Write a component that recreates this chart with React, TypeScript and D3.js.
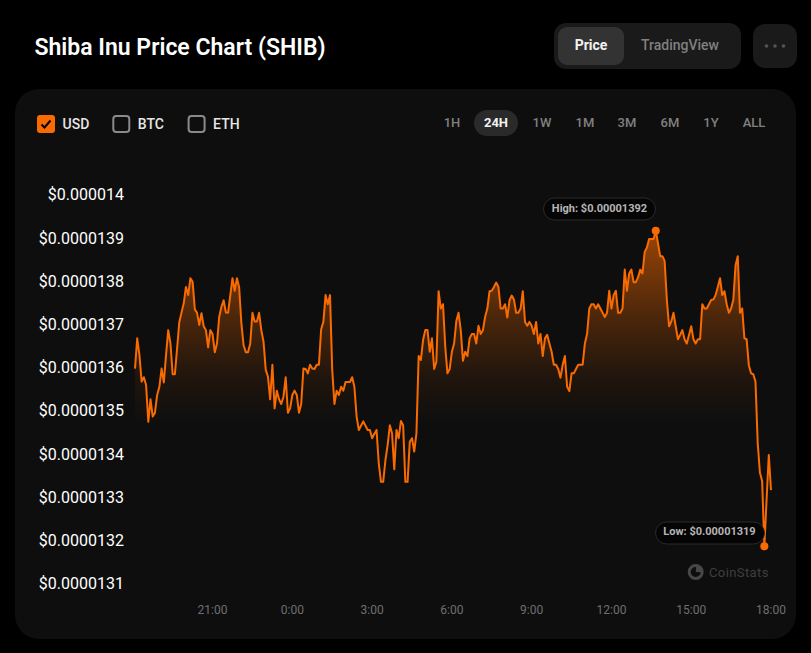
import { useMemo } from "react";
import * as d3 from "d3";

// price in units of 1e-8 USD, one sample every 5 minutes
const prices = [
  1360.1, 1367.1, 1363.2, 1357.1, 1358.1, 1356.3, 1347.8, 1353.0, 1349.0, 1349.9, 1354.0, 1355.9,
  1360.1, 1356.9, 1363.2, 1369.0, 1365.9, 1358.8, 1358.8, 1364.8, 1370.9, 1373.1, 1375.2, 1379.0,
  1377.1, 1381.0, 1380.2, 1373.8, 1373.0, 1370.2, 1372.9, 1369.9, 1369.0, 1365.0, 1369.0, 1368.1,
  1363.9, 1365.9, 1372.1, 1374.4, 1375.9, 1373.1, 1373.0, 1377.1, 1381.0, 1378.1, 1381.0, 1378.9,
  1370.6, 1365.5, 1363.9, 1363.9, 1365.9, 1373.0, 1371.0, 1371.0, 1373.0, 1369.0, 1366.3, 1359.8,
  1358.2, 1353.0, 1361.0, 1350.9, 1355.0, 1353.0, 1351.9, 1353.6, 1358.1, 1349.9, 1350.9, 1354.0,
  1355.0, 1354.0, 1349.9, 1351.9, 1360.1, 1360.0, 1359.0, 1361.0, 1360.1, 1360.0, 1361.0, 1361.0,
  1369.2, 1370.9, 1377.1, 1375.0, 1377.1, 1359.8, 1351.9, 1355.0, 1354.0, 1355.9, 1355.0, 1357.0,
  1357.0, 1357.0, 1358.1, 1355.9, 1349.0, 1345.9, 1346.9, 1347.9, 1346.9, 1345.9, 1345.9,
  1344.0, 1345.0, 1345.9, 1338.2, 1333.9, 1333.9, 1338.9, 1342.4, 1347.0, 1345.1, 1336.8, 1345.9,
  1344.0, 1348.0, 1347.0, 1333.9, 1333.9, 1343.2, 1344.0, 1340.9, 1345.1, 1363.0, 1362.1, 1366.7,
  1369.0, 1369.0, 1364.0, 1367.1, 1360.0, 1361.7, 1378.0, 1374.0, 1375.0, 1365.2, 1359.0, 1360.0,
  1364.0, 1365.9, 1371.1, 1373.0, 1369.0, 1361.9, 1364.0, 1363.0, 1367.1, 1368.1, 1368.1, 1365.9,
  1370.0, 1368.1, 1369.0, 1372.1, 1374.0, 1378.0, 1378.1, 1379.0, 1380.0, 1379.0, 1374.0, 1374.0,
  1375.0, 1371.9, 1375.9, 1377.0, 1376.1, 1373.0, 1373.0, 1374.0, 1378.0, 1370.9, 1370.0, 1370.9,
  1370.0, 1368.1, 1370.9, 1365.9, 1368.1, 1363.0, 1367.1, 1367.9, 1365.9, 1364.0, 1361.0, 1361.0,
  1360.0, 1358.0, 1361.0, 1363.0, 1355.9, 1354.9, 1359.0, 1359.0, 1360.0, 1361.0, 1361.0, 1361.0,
  1365.9, 1368.1, 1374.0,
  1375.0, 1375.0, 1374.0, 1375.0, 1374.0, 1373.0, 1372.0, 1373.0, 1378.1, 1374.0, 1377.1, 1378.1,
  1373.0, 1373.0, 1374.0, 1383.0, 1378.1, 1382.1, 1383.0, 1380.1, 1380.1, 1381.2, 1383.0, 1382.1,
  1387.1, 1388.1, 1390.1, 1390.1, 1390.1, 1392.0, 1389.1, 1386.1, 1386.1, 1385.0, 1376.0, 1369.9,
  1371.0, 1373.0, 1369.9, 1366.9, 1367.9, 1369.0, 1366.9, 1365.9, 1367.9, 1369.9, 1366.9, 1365.9,
  1366.9, 1366.9, 1375.0, 1374.0, 1374.0, 1375.0, 1376.0, 1376.1, 1377.1, 1379.0, 1381.0, 1377.1,
  1378.0, 1375.0, 1373.0, 1374.0, 1376.0, 1384.0, 1386.1, 1373.0, 1374.0, 1367.1, 1366.9, 1360.9,
  1359.0, 1358.8, 1357.1, 1342.9, 1336.0, 1334.1, 1319.0, 1329.7, 1340.1, 1332.0,
];

const priceTicks = [1400, 1390, 1380, 1370, 1360, 1350, 1340, 1330, 1320, 1310];
const priceLabels = [
  "$0.000014",
  "$0.0000139",
  "$0.0000138",
  "$0.0000137",
  "$0.0000136",
  "$0.0000135",
  "$0.0000134",
  "$0.0000133",
  "$0.0000132",
  "$0.0000131",
];
// minutes counted from 18:00 of the first day
const timeTicks = [180, 360, 540, 720, 900, 1080, 1260, 1440];
const timeLabels = ["21:00", "0:00", "3:00", "6:00", "9:00", "12:00", "15:00", "18:00"];
const ranges = ["1H", "24H", "1W", "1M", "3M", "6M", "1Y", "ALL"];
const rangeCenters = [452, 496, 542, 585, 627, 670, 711, 754];
const currencies = ["USD", "BTC", "ETH"];

const ORANGE = "#f96b00";
const FONT = "Roboto, sans-serif";
const SAMPLE_MINUTES = 5;
const FIRST_MINUTE = 5;

export default function App() {
  const xScale = d3.scaleLinear().domain([FIRST_MINUTE, 1440]).range([135, 771]);
  const yScale = d3.scaleLinear().domain([1310, 1400]).range([585.2, 196.1]);

  const points = useMemo(
    () => prices.map((price, i) => ({ minute: FIRST_MINUTE + i * SAMPLE_MINUTES, price })),
    []
  );

  const linePath = d3
    .line<{ minute: number; price: number }>()
    .x((d) => xScale(d.minute))
    .y((d) => yScale(d.price))(points);

  const areaPath = d3
    .area<{ minute: number; price: number }>()
    .x((d) => xScale(d.minute))
    .y0(yScale(1310))
    .y1((d) => yScale(d.price))(points);

  const high = points.reduce((a, b) => (b.price > a.price ? b : a));
  const low = points.reduce((a, b) => (b.price < a.price ? b : a));

  const logoArc = d3.arc();

  return (
    <svg
      width={811}
      height={653}
      style={{ position: "absolute", left: 0, top: 0, background: "#000", fontFamily: FONT }}
    >
      <defs>
        <linearGradient id="priceFill" gradientUnits="userSpaceOnUse" x1={0} x2={0} y1={228} y2={425}>
          <stop offset="0%" stopColor={ORANGE} stopOpacity={0.6} />
          <stop offset="47%" stopColor={ORANGE} stopOpacity={0.25} />
          <stop offset="77%" stopColor={ORANGE} stopOpacity={0.07} />
          <stop offset="100%" stopColor={ORANGE} stopOpacity={0} />
        </linearGradient>
      </defs>

      <text x={34.5} y={55} fontSize={23} fontWeight={600} fill="#fff">
        Shiba Inu Price Chart (SHIB)
      </text>

      {/* Price / TradingView switch */}
      <rect x={554} y={23} width={187} height={46} rx={12} fill="#1a1a1a" />
      <rect x={558} y={27} width={66} height={38} rx={9} fill="#333" />
      <text x={591} y={50} textAnchor="middle" fontSize={14} fontWeight={700} fill="#f2f2f2">
        Price
      </text>
      <text x={680} y={50} textAnchor="middle" fontSize={14} fontWeight={500} fill="#808080">
        TradingView
      </text>
      <rect x={753} y={24} width={44} height={44} rx={12} fill="#1a1a1a" />
      {[766.5, 775, 783.5].map((cx) => (
        <circle key={cx} cx={cx} cy={46} r={1.8} fill="#555" />
      ))}

      <rect x={15} y={89} width={781} height={550} rx={24} fill="#0e0e0e" />

      {/* Currency checkboxes */}
      {currencies.map((label, i) => {
        const boxX = 37 + i * 75.3;
        return (
          <g key={label}>
            {i === 0 ? (
              <>
                <rect x={boxX} y={115} width={18} height={18} rx={3} fill={ORANGE} />
                <path
                  d={`M${boxX + 4.5} ${124.5}l3 3l6-7`}
                  fill="none"
                  stroke="#000"
                  strokeWidth={2}
                />
              </>
            ) : (
              <rect
                x={boxX + 1}
                y={116}
                width={16}
                height={16}
                rx={3}
                fill="none"
                stroke="#8a8a8a"
                strokeWidth={2}
              />
            )}
            <text x={boxX + 25.5} y={129} fontSize={14} fontWeight={500} fill="#e6e6e6">
              {label}
            </text>
          </g>
        );
      })}

      {/* Range buttons */}
      <rect x={474} y={110} width={44} height={26} rx={13} fill="#2a2a2a" />
      {ranges.map((label, i) => (
        <text
          key={label}
          x={rangeCenters[i]}
          y={127}
          textAnchor="middle"
          fontSize={13}
          fontWeight={label === "24H" ? 700 : 500}
          fill={label === "24H" ? "#f2f2f2" : "#808080"}
        >
          {label}
        </text>
      ))}

      {/* Y labels */}
      {priceTicks.map((tick, i) => (
        <text
          key={tick}
          x={124}
          y={yScale(tick) + 4.2}
          textAnchor="end"
          fontSize={16}
          fill="#fff"
        >
          {priceLabels[i]}
        </text>
      ))}

      {/* X labels */}
      {timeTicks.map((tick, i) => (
        <text
          key={tick}
          x={xScale(tick)}
          y={614}
          textAnchor="middle"
          fontSize={12}
          fill="#6f6f6f"
        >
          {timeLabels[i]}
        </text>
      ))}

      {/* CoinStats mark */}
      <g transform="translate(695.7, 572)">
        <circle r={6.5} fill="none" stroke="#474747" strokeWidth={3} />
        <path
          d={
            logoArc({
              innerRadius: 0,
              outerRadius: 7,
              startAngle: 0,
              endAngle: Math.PI / 2,
            }) ?? ""
          }
          fill="#474747"
          transform="rotate(5)"
        />
      </g>
      <text x={709} y={577} fontSize={13} fill="#3f3f3f" letterSpacing={0.4}>
        CoinStats
      </text>

      <path d={areaPath ?? ""} fill="url(#priceFill)" />
      <path d={linePath ?? ""} fill="none" stroke={ORANGE} strokeWidth={2} strokeLinejoin="round" />

      {/* High and low callouts */}
      <circle cx={xScale(high.minute)} cy={yScale(high.price)} r={4} fill={ORANGE} />
      <rect x={543.5} y={198} width={112} height={22} rx={11} fill="#050505" stroke="#2a2a2a" />
      <text x={599.5} y={212} textAnchor="middle" fontSize={11} fontWeight={700} fill="#b5b5b5">
        High: $0.00001392
      </text>

      <rect x={655.5} y={522} width={109} height={22} rx={11} fill="#050505" stroke="#2a2a2a" />
      <text x={709.5} y={535} textAnchor="middle" fontSize={11} fontWeight={700} fill="#b5b5b5">
        Low: $0.00001319
      </text>
      <circle cx={xScale(low.minute)} cy={yScale(low.price)} r={4} fill={ORANGE} />
    </svg>
  );
}
